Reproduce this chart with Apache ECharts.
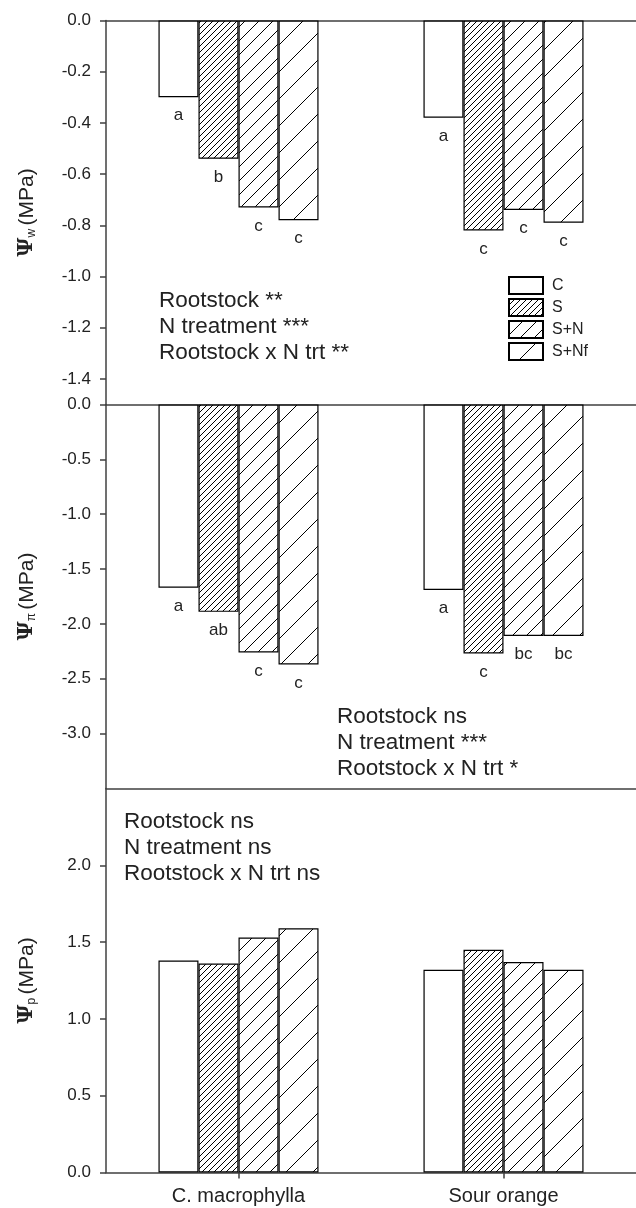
<!DOCTYPE html>
<html><head><meta charset="utf-8">
<script src="https://cdn.jsdelivr.net/npm/echarts@6/dist/echarts.min.js"></script>
<style>html,body{margin:0;padding:0;background:#fff}#c{width:636px;height:1208px}</style>
</head><body><div id="c"></div>
<script>
// ---------- data ----------
const categories = ['C. macrophylla', 'Sour orange'];
const treatments = ['C', 'S', 'S+N', 'S+Nf'];

// Panel 1: water potential (Ψw, MPa)
const psiW_C   = [-0.30, -0.38];
const psiW_S   = [-0.54, -0.82];
const psiW_SN  = [-0.73, -0.74];
const psiW_SNf = [-0.78, -0.79];
const letW_C   = ['a', 'a'];
const letW_S   = ['b', 'c'];
const letW_SN  = ['c', 'c'];
const letW_SNf = ['c', 'c'];

// Panel 2: osmotic potential (Ψπ, MPa)
const psiPi_C   = [-1.67, -1.69];
const psiPi_S   = [-1.89, -2.27];
const psiPi_SN  = [-2.26, -2.11];
const psiPi_SNf = [-2.37, -2.11];
const letPi_C   = ['a', 'a'];
const letPi_S   = ['ab', 'c'];
const letPi_SN  = ['c', 'bc'];
const letPi_SNf = ['c', 'bc'];

// Panel 3: turgor potential (Ψp, MPa)
const psiP_C   = [1.38, 1.32];
const psiP_S   = [1.36, 1.45];
const psiP_SN  = [1.53, 1.37];
const psiP_SNf = [1.59, 1.32];

// tick labels
const ticksW  = [0, -0.2, -0.4, -0.6, -0.8, -1.0, -1.2, -1.4];
const ticksPi = [0, -0.5, -1.0, -1.5, -2.0, -2.5, -3.0];
const ticksP  = [0, 0.5, 1.0, 1.5, 2.0];

// statistics text
const statsW  = ['Rootstock **', 'N treatment ***', 'Rootstock x N trt **'];
const statsPi = ['Rootstock ns', 'N treatment ***', 'Rootstock x N trt *'];
const statsP  = ['Rootstock ns', 'N treatment ns', 'Rootstock x N trt ns'];

// ---------- styles ----------
const FONT = '"Liberation Sans", Arial, sans-serif';
const AX = '#404040';
function hatch(step, lw) {
  const c = document.createElement('canvas');
  c.width = step; c.height = step;
  const g = c.getContext('2d');
  g.fillStyle = '#fff'; g.fillRect(0, 0, step, step);
  g.strokeStyle = '#000'; g.lineWidth = lw;
  g.beginPath();
  g.moveTo(-1, step + 1); g.lineTo(step + 1, -1);
  g.moveTo(-2, 2); g.lineTo(2, -2);
  g.moveTo(step - 2, step + 2); g.lineTo(step + 2, step - 2);
  g.stroke();
  return c;
}
const fills = {
  'C': '#ffffff',
  'S': { image: hatch(6, 1), repeat: 'repeat' },
  'S+N': { image: hatch(14, 1), repeat: 'repeat' },
  'S+Nf': { image: hatch(27, 1), repeat: 'repeat' }
};

const chart = echarts.init(document.getElementById('c'), null, { renderer: 'canvas' });

function series(name, data, letters, idx) {
  return {
    type: 'bar', name, data, xAxisIndex: idx, yAxisIndex: idx,
    barGap: '0%', barCategoryGap: '39.6%',
    itemStyle: { color: fills[name], borderColor: '#000', borderWidth: 1.2 },
    label: letters ? {
      show: true, position: 'bottom', distance: 10,
      formatter: p => letters[p.dataIndex],
      fontFamily: FONT, fontSize: 17, color: '#222'
    } : { show: false },
    animation: false, silent: true
  };
}

const gridTops = [20.5, 404.5, 788.5];
const gridH = 384;

function yAxis(idx, min, max, ticks, sub) {
  return {
    gridIndex: idx, type: 'value', min, max,
    axisLine: { show: true, onZero: false, lineStyle: { color: AX, width: 1.5 } },
    axisTick: { show: true, customValues: ticks, length: 6, lineStyle: { color: AX, width: 1.5 } },
    axisLabel: { customValues: ticks, formatter: v => v.toFixed(1), fontFamily: FONT, fontSize: 17, color: '#222', margin: 15 },
    splitLine: { show: false },
    name: '{psi|Ψ}{sub|' + sub + '} {t|(MPa)}',
    nameLocation: 'middle', nameGap: 68, nameRotate: 90,
    nameTextStyle: {
      rich: {
        psi: { fontFamily: '"DejaVu Serif", serif', fontWeight: 'bold', fontSize: 21, color: '#222' },
        sub: { fontFamily: FONT, fontSize: 12, color: '#222', padding: [10, 0, 0, 0] },
        t: { fontFamily: FONT, fontSize: 21, color: '#222' }
      }
    }
  };
}

function xAxisPlain(idx, pos) {
  return {
    gridIndex: idx, type: 'category', data: categories, position: pos,
    axisLine: { show: true, onZero: false, lineStyle: { color: AX, width: 1.5 } },
    axisTick: { show: false }, axisLabel: { show: false }, splitLine: { show: false }
  };
}

function statText(lines, left, top) {
  return {
    type: 'text', left, top, silent: true,
    style: { text: lines.join('\n'), fontFamily: FONT, fontSize: 22.5, lineHeight: 26, fill: '#222' }
  };
}

chart.setOption({
  backgroundColor: '#fff',
  animation: false,
  grid: gridTops.map(t => ({ left: 106, top: t, height: gridH, width: 530 })),
  xAxis: [
    xAxisPlain(0, 'top'),
    xAxisPlain(1, 'top'),
    {
      gridIndex: 2, type: 'category', data: categories, position: 'bottom',
      axisLine: { show: true, onZero: false, lineStyle: { color: AX, width: 1.5 } },
      axisTick: { show: true, alignWithLabel: true, length: 6, lineStyle: { color: AX, width: 1.5 } },
      axisLabel: { fontFamily: FONT, fontSize: 20, color: '#222', margin: 14 },
      splitLine: { show: false }
    },
    xAxisPlain(2, 'top')
  ],
  yAxis: [
    yAxis(0, -1.5, 0, ticksW, 'w'),
    yAxis(1, -3.5, 0, ticksPi, 'π'),
    yAxis(2, 0, 2.5, ticksP, 'p')
  ],
  legend: {
    data: treatments, orient: 'vertical', left: 508, top: 276,
    itemWidth: 34, itemHeight: 17, itemGap: 3, padding: 0, icon: 'rect',
    textStyle: { fontFamily: FONT, fontSize: 16, color: '#222', padding: [0, 0, 0, 4] },
    selectedMode: false
  },
  series: [
    series('C', psiW_C, letW_C, 0),
    series('S', psiW_S, letW_S, 0),
    series('S+N', psiW_SN, letW_SN, 0),
    series('S+Nf', psiW_SNf, letW_SNf, 0),
    series('C', psiPi_C, letPi_C, 1),
    series('S', psiPi_S, letPi_S, 1),
    series('S+N', psiPi_SN, letPi_SN, 1),
    series('S+Nf', psiPi_SNf, letPi_SNf, 1),
    series('C', psiP_C, null, 2),
    series('S', psiP_S, null, 2),
    series('S+N', psiP_SN, null, 2),
    series('S+Nf', psiP_SNf, null, 2)
  ],
  graphic: [
    statText(statsW, 159, 288),
    statText(statsPi, 337, 704),
    statText(statsP, 124, 809)
  ]
});
</script></body></html>
